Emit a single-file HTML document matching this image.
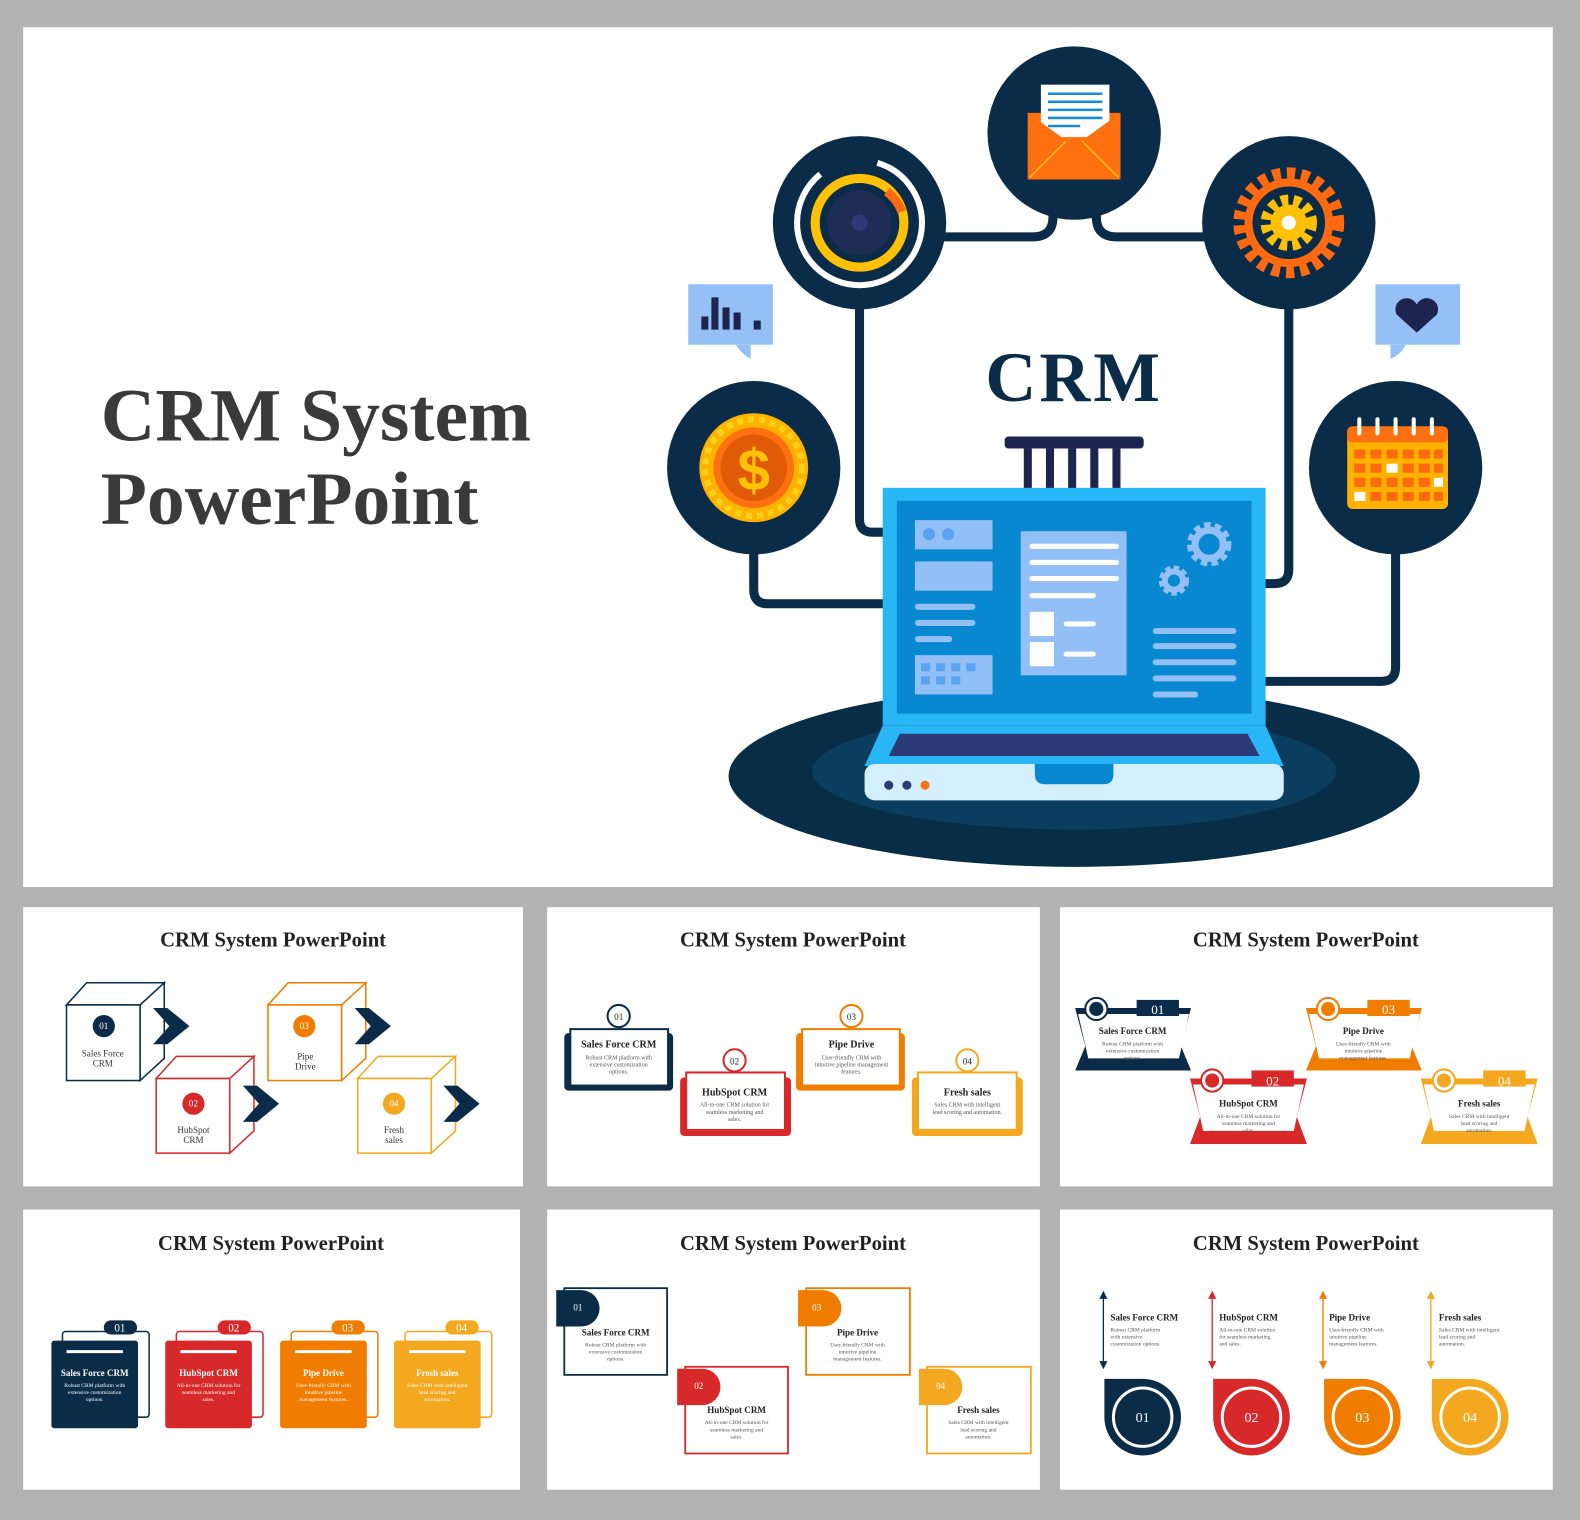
<!DOCTYPE html>
<html><head><meta charset="utf-8"><style>
html,body{margin:0;padding:0;background:#b3b3b3;}
svg{display:block;font-family:"Liberation Serif",serif;}
</style></head><body>
<svg width="1580" height="1520" viewBox="0 0 1568 1508" preserveAspectRatio="none" xmlns="http://www.w3.org/2000/svg">
<rect width="1568" height="1508" fill="#b3b3b3"/>
<rect x="23" y="27" width="1518" height="853" fill="#fff"/>
<text x="100" y="437" font-size="75" font-weight="bold" fill="#3a3a3a">CRM System</text>
<text x="100" y="520" font-size="75" font-weight="bold" fill="#3a3a3a">PowerPoint</text>

<g fill="none" stroke="#0b2c48" stroke-width="9">
<path d="M853 300 V515 q0 13 13 13 H880"/>
<path d="M748 545 V585 q0 14 14 14 H880"/>
<path d="M1045 205 v10 q0 20 -20 20 H930"/>
<path d="M1088 205 v10 q0 20 20 20 H1200"/>
<path d="M1279 300 V565 q0 14 -14 14 H1252"/>
<path d="M1385 545 V662 q0 14 -14 14 H1252"/>
</g>
<ellipse cx="1066" cy="770" rx="343" ry="90" fill="#072d47"/>
<ellipse cx="1066" cy="765" rx="260" ry="58" fill="#0b3d5e"/>
<g fill="#0b2c48">
<circle cx="1066" cy="132" r="86"/><circle cx="853" cy="221" r="86"/><circle cx="1279" cy="221" r="86"/>
<circle cx="748" cy="464" r="86"/><circle cx="1385" cy="464" r="86"/>
</g>
<rect x="1020" y="112" width="92" height="66" fill="#ff7010"/>
<rect x="1033" y="84" width="68" height="52" fill="#fff"/>
<g stroke="#1a8ad8" stroke-width="2.5"><line x1="1040" y1="93" x2="1094" y2="93"/><line x1="1040" y1="101" x2="1094" y2="101"/><line x1="1040" y1="109" x2="1094" y2="109"/><line x1="1040" y1="117" x2="1094" y2="117"/><line x1="1040" y1="125" x2="1072" y2="125"/></g>
<path d="M1020 112 L1066 145 L1112 112 V178 H1020Z" fill="#ff7010"/>
<path d="M1022 176 L1058 140 M1110 176 L1074 140" stroke="#ffc020" stroke-width="1.5"/>
<circle cx="853" cy="221" r="62" fill="none" stroke="#fff" stroke-width="6" stroke-dasharray="250 60"/>
<circle cx="853" cy="221" r="44" fill="none" stroke="#ffc107" stroke-width="9"/>
<path d="M880 190 A44 44 0 0 1 895 210" stroke="#ff6a10" stroke-width="9" fill="none"/>
<circle cx="853" cy="221" r="32" fill="#1e2d55"/>
<circle cx="853" cy="221" r="8" fill="#2c3b77"/>
<circle cx="1279" cy="221" r="48" fill="none" stroke="#ff6a10" stroke-width="14" stroke-dasharray="8 6"/>
<circle cx="1279" cy="221" r="40" fill="none" stroke="#ff6a10" stroke-width="8"/>
<circle cx="1279" cy="221" r="22" fill="none" stroke="#ffc107" stroke-width="12" stroke-dasharray="7 5"/>
<circle cx="1279" cy="221" r="18" fill="#ffc107"/>
<circle cx="1279" cy="221" r="7" fill="#fff"/>
<circle cx="748" cy="464" r="54" fill="#ffb300"/>
<circle cx="748" cy="464" r="48" fill="none" stroke="#ffd21a" stroke-width="6" stroke-dasharray="6 5"/>
<circle cx="748" cy="464" r="40" fill="#ff7010"/>
<circle cx="748" cy="464" r="33" fill="#e05a08"/>
<text x="748" y="486" font-size="58" font-weight="bold" text-anchor="middle" fill="#ffc107" font-family="Liberation Sans,sans-serif">$</text>
<rect x="1337" y="423" width="100" height="82" rx="5" fill="#ffb300"/>
<rect x="1337" y="423" width="100" height="16" rx="5" fill="#ff7010"/>
<g fill="#ff6a10">
<rect x="1344" y="446" width="11" height="9"/><rect x="1360" y="446" width="11" height="9"/><rect x="1376" y="446" width="11" height="9"/><rect x="1392" y="446" width="11" height="9"/><rect x="1408" y="446" width="11" height="9"/><rect x="1423" y="446" width="9" height="9"/>
<rect x="1344" y="460" width="11" height="9"/><rect x="1360" y="460" width="11" height="9"/><rect x="1392" y="460" width="11" height="9"/><rect x="1408" y="460" width="11" height="9"/><rect x="1423" y="460" width="9" height="9"/>
<rect x="1344" y="474" width="11" height="9"/><rect x="1360" y="474" width="11" height="9"/><rect x="1376" y="474" width="11" height="9"/><rect x="1392" y="474" width="11" height="9"/><rect x="1408" y="474" width="11" height="9"/>
<rect x="1360" y="488" width="11" height="9"/><rect x="1376" y="488" width="11" height="9"/><rect x="1392" y="488" width="11" height="9"/><rect x="1408" y="488" width="11" height="9"/><rect x="1423" y="488" width="9" height="9"/>
</g>
<g fill="#fff"><rect x="1376" y="460" width="11" height="9"/><rect x="1423" y="474" width="9" height="9"/><rect x="1344" y="488" width="11" height="9"/></g>
<g stroke="#fff" stroke-width="4" stroke-linecap="round"><line x1="1349" y1="416" x2="1349" y2="430"/><line x1="1367" y1="416" x2="1367" y2="430"/><line x1="1385" y1="416" x2="1385" y2="430"/><line x1="1403" y1="416" x2="1403" y2="430"/><line x1="1421" y1="416" x2="1421" y2="430"/></g>
<rect x="683" y="282" width="84" height="60" fill="#94c0f5"/><path d="M730 342 h15 v14 q-8 -4 -15 -14z" fill="#94c0f5"/>
<g fill="#1e2450"><rect x="696" y="314" width="7" height="13"/><rect x="706" y="295" width="7" height="32"/><rect x="717" y="305" width="7" height="22"/><rect x="728" y="310" width="7" height="17"/><rect x="748" y="318" width="7" height="9"/></g>
<rect x="1365" y="282" width="84" height="60" fill="#94c0f5"/><path d="M1380 342 h15 q-5 10 -15 14z" fill="#94c0f5"/>
<path d="M1406 330 l-20 -18 a11 11 0 0 1 20 -10 a11 11 0 0 1 20 10z" fill="#1e2450"/>
<text x="1066" y="398" font-size="70" font-weight="bold" text-anchor="middle" fill="#0b2c48" letter-spacing="3">CRM</text>
<rect x="997" y="433" width="138" height="12" rx="4" fill="#1e2450"/>
<g fill="#1e2450"><rect x="1016" y="445" width="8" height="40"/><rect x="1038" y="445" width="8" height="40"/><rect x="1060" y="445" width="8" height="40"/><rect x="1082" y="445" width="8" height="40"/><rect x="1104" y="445" width="8" height="40"/></g>
<rect x="876" y="484" width="380" height="236" fill="#29b6f6"/>
<rect x="890" y="497" width="352" height="211" fill="#0788d0"/>
<path d="M876 720 H1256 L1274 760 H858Z" fill="#29b6f6"/>
<path d="M893 728 H1238 L1250 750 H882Z" fill="#2c3b77"/>
<rect x="858" y="758" width="416" height="36" rx="10" fill="#d4efff"/>
<path d="M1027 758 h78 v10 q0 10 -10 10 h-58 q-10 0 -10 -10z" fill="#0788d0"/>
<circle cx="882" cy="779" r="4.5" fill="#2c3b77"/><circle cx="900" cy="779" r="4.5" fill="#2c3b77"/><circle cx="918" cy="779" r="4.5" fill="#ff7010"/>
<g fill="#92bff5">
<rect x="908" y="516" width="77" height="29"/><rect x="908" y="557" width="77" height="29"/>
<rect x="908" y="650" width="77" height="39"/>
<rect x="1013" y="527" width="105" height="143"/>
</g>
<circle cx="922" cy="530" r="6" fill="#5aa4ef"/><circle cx="941" cy="530" r="6" fill="#5aa4ef"/>
<g stroke="#92bff5" stroke-width="6" stroke-linecap="round"><line x1="911" y1="602" x2="965" y2="602"/><line x1="911" y1="618" x2="965" y2="618"/><line x1="911" y1="634" x2="942" y2="634"/>
<line x1="1147" y1="626" x2="1224" y2="626"/><line x1="1147" y1="641" x2="1224" y2="641"/><line x1="1147" y1="657" x2="1224" y2="657"/><line x1="1147" y1="673" x2="1224" y2="673"/><line x1="1147" y1="689" x2="1186" y2="689"/></g>
<g fill="#5aa4ef"><rect x="914" y="658" width="9" height="8"/><rect x="929" y="658" width="9" height="8"/><rect x="944" y="658" width="9" height="8"/><rect x="959" y="658" width="9" height="8"/><rect x="914" y="671" width="9" height="8"/><rect x="929" y="671" width="9" height="8"/><rect x="944" y="671" width="9" height="8"/></g>
<g stroke="#fff" stroke-width="5" stroke-linecap="round"><line x1="1024" y1="542" x2="1108" y2="542"/><line x1="1024" y1="558" x2="1108" y2="558"/><line x1="1024" y1="574" x2="1108" y2="574"/><line x1="1024" y1="591" x2="1085" y2="591"/><line x1="1058" y1="619" x2="1085" y2="619"/><line x1="1058" y1="649" x2="1085" y2="649"/></g>
<rect x="1022" y="607" width="24" height="24" fill="#fff"/><rect x="1022" y="637" width="24" height="24" fill="#fff"/>
<circle cx="1200" cy="540" r="18" fill="none" stroke="#92bff5" stroke-width="8" stroke-dasharray="6 4"/><circle cx="1200" cy="540" r="14" fill="none" stroke="#92bff5" stroke-width="7"/>
<circle cx="1165" cy="576" r="12" fill="none" stroke="#92bff5" stroke-width="6" stroke-dasharray="5 3"/><circle cx="1165" cy="576" r="9" fill="none" stroke="#92bff5" stroke-width="6"/>

<g fill="#fff">
<rect x="23" y="900" width="496" height="277"/><rect x="543" y="900" width="489" height="277"/><rect x="1052" y="900" width="489" height="277"/>
<rect x="23" y="1200" width="493" height="278"/><rect x="543" y="1200" width="489" height="278"/><rect x="1052" y="1200" width="489" height="278"/>
</g>
<g font-size="20.5" font-weight="bold" fill="#222" text-anchor="middle">
<text x="271" y="939">CRM System PowerPoint</text><text x="787" y="939">CRM System PowerPoint</text><text x="1296" y="939">CRM System PowerPoint</text>
<text x="269" y="1240">CRM System PowerPoint</text><text x="787" y="1240">CRM System PowerPoint</text><text x="1296" y="1240">CRM System PowerPoint</text>
</g>

<g fill="#fff" stroke-width="1.5">
<g stroke="#0b2c48"><path d="M66 997 L86 975 H163 L139 997Z M139 997 L163 975 V1050 L139 1072Z"/><rect x="66" y="997" width="73" height="75"/></g>
<g stroke="#d7282a"><path d="M155 1070 L175 1048 H252 L228 1070Z M228 1070 L252 1048 V1122 L228 1144Z"/><rect x="155" y="1070" width="73" height="74"/></g>
<g stroke="#f07d00"><path d="M266 997 L286 975 H363 L339 997Z M339 997 L363 975 V1050 L339 1072Z"/><rect x="266" y="997" width="73" height="75"/></g>
<g stroke="#f3a81f"><path d="M355 1070 L375 1048 H452 L428 1070Z M428 1070 L452 1048 V1122 L428 1144Z"/><rect x="355" y="1070" width="73" height="74"/></g>
</g>
<g fill="#0b2c48"><path d="M152 1000 h14 l22 18 l-22 18 h-14 l16 -18z"/><path d="M241 1077 h14 l22 18 l-22 18 h-14 l16 -18z"/><path d="M352 1000 h14 l22 18 l-22 18 h-14 l16 -18z"/><path d="M440 1077 h14 l22 18 l-22 18 h-14 l16 -18z"/></g>
<circle cx="103" cy="1018" r="11" fill="#0b2c48"/><circle cx="192" cy="1095" r="11" fill="#d7282a"/><circle cx="302" cy="1018" r="11" fill="#f07d00"/><circle cx="391" cy="1095" r="11" fill="#f3a81f"/>
<g font-size="9" fill="#fff" text-anchor="middle"><text x="103" y="1021">01</text><text x="192" y="1098">02</text><text x="302" y="1021">03</text><text x="391" y="1098">04</text></g>
<g font-size="9" fill="#333" text-anchor="middle"><text x="102" y="1048">Sales Force</text><text x="102" y="1058">CRM</text><text x="192" y="1124">HubSpot</text><text x="192" y="1134">CRM</text><text x="303" y="1051">Pipe</text><text x="303" y="1061">Drive</text><text x="391" y="1124">Fresh</text><text x="391" y="1134">sales</text></g>

<g fill="#fff" stroke-width="2">
<rect x="560" y="1025" width="108" height="57" rx="4" fill="#0b2c48"/><rect x="566" y="1021" width="97" height="56" stroke="#0b2c48"/>
<rect x="675" y="1069" width="110" height="58" rx="4" fill="#d7282a"/><rect x="681" y="1064" width="98" height="57" stroke="#d7282a"/>
<rect x="790" y="1025" width="108" height="57" rx="4" fill="#f07d00"/><rect x="796" y="1021" width="97" height="56" stroke="#f07d00"/>
<rect x="905" y="1069" width="110" height="58" rx="4" fill="#f3a81f"/><rect x="911" y="1064" width="98" height="57" stroke="#f3a81f"/>
<circle cx="614" cy="1008" r="11" stroke="#0b2c48"/><circle cx="729" cy="1052" r="11" stroke="#d7282a"/><circle cx="845" cy="1008" r="11" stroke="#f07d00"/><circle cx="960" cy="1052" r="11" stroke="#f3a81f"/>
</g>
<g font-size="9" fill="#222" text-anchor="middle"><text x="614" y="1012">01</text><text x="729" y="1056">02</text><text x="845" y="1012">03</text><text x="960" y="1056">04</text></g>
<g font-size="10" font-weight="bold" fill="#222" text-anchor="middle"><text x="614" y="1039">Sales Force CRM</text><text x="729" y="1087">HubSpot CRM</text><text x="845" y="1039">Pipe Drive</text><text x="960" y="1087">Fresh sales</text></g>
<g font-size="6" fill="#555" text-anchor="middle"><text x="614" y="1051">Robust CRM platform with</text><text x="614" y="1058">extensive customization</text><text x="614" y="1065">options.</text>
<text x="729" y="1098">All-in-one CRM solution for</text><text x="729" y="1105">seamless marketing and</text><text x="729" y="1112">sales.</text>
<text x="845" y="1051">User-friendly CRM with</text><text x="845" y="1058">intuitive pipeline management</text><text x="845" y="1065">features.</text>
<text x="960" y="1098">Sales CRM with intelligent</text><text x="960" y="1105">lead scoring and automation.</text></g>

<g>
<path d="M1067 1000 H1182 L1172 1038 L1182 1062 H1067 L1077 1038Z" fill="#0b2c48"/><path d="M1070 1006 H1180 L1170 1050 H1080Z" fill="#fff"/>
<rect x="1128" y="992" width="42" height="16" fill="#0b2c48"/><circle cx="1088" cy="1001" r="11" fill="#fff" stroke="#0b2c48" stroke-width="2"/><circle cx="1088" cy="1001" r="7" fill="#0b2c48"/>
<path d="M1181 1070 H1297 L1287 1108 L1297 1135 H1181 L1191 1108Z" fill="#d7282a"/><path d="M1184 1076 H1294 L1284 1122 H1194Z" fill="#fff"/>
<rect x="1242" y="1062" width="42" height="16" fill="#d7282a"/><circle cx="1203" cy="1072" r="11" fill="#fff" stroke="#d7282a" stroke-width="2"/><circle cx="1203" cy="1072" r="7" fill="#d7282a"/>
<path d="M1296 1000 H1411 L1401 1038 L1411 1062 H1296 L1306 1038Z" fill="#f07d00"/><path d="M1299 1006 H1409 L1399 1050 H1309Z" fill="#fff"/>
<rect x="1357" y="992" width="42" height="16" fill="#f07d00"/><circle cx="1318" cy="1001" r="11" fill="#fff" stroke="#f07d00" stroke-width="2"/><circle cx="1318" cy="1001" r="7" fill="#f07d00"/>
<path d="M1410 1070 H1526 L1516 1108 L1526 1135 H1410 L1420 1108Z" fill="#f3a81f"/><path d="M1413 1076 H1523 L1513 1122 H1423Z" fill="#fff"/>
<rect x="1472" y="1062" width="42" height="16" fill="#f3a81f"/><circle cx="1433" cy="1072" r="11" fill="#fff" stroke="#f3a81f" stroke-width="2"/><circle cx="1433" cy="1072" r="7" fill="#f3a81f"/>
</g>
<g font-size="13" fill="#fff" text-anchor="middle"><text x="1149" y="1006">01</text><text x="1263" y="1077">02</text><text x="1378" y="1006">03</text><text x="1493" y="1077">04</text></g>
<g font-size="9" font-weight="bold" fill="#222" text-anchor="middle"><text x="1124" y="1026">Sales Force CRM</text><text x="1239" y="1098">HubSpot CRM</text><text x="1353" y="1026">Pipe Drive</text><text x="1468" y="1098">Fresh sales</text></g>
<g font-size="5.5" fill="#555" text-anchor="middle"><text x="1124" y="1037">Robust CRM platform with</text><text x="1124" y="1044">extensive customization</text><text x="1124" y="1051">options.</text>
<text x="1239" y="1109">All-in-one CRM solution for</text><text x="1239" y="1116">seamless marketing and</text><text x="1239" y="1123">sales.</text>
<text x="1353" y="1037">User-friendly CRM with</text><text x="1353" y="1044">intuitive pipeline</text><text x="1353" y="1051">management features.</text>
<text x="1468" y="1109">Sales CRM with intelligent</text><text x="1468" y="1116">lead scoring and</text><text x="1468" y="1123">automation.</text></g>

<g fill="none" stroke-width="1.5">
<rect x="62" y="1321" width="86" height="85" rx="3" stroke="#0b2c48"/><rect x="175" y="1321" width="86" height="85" rx="3" stroke="#d7282a"/><rect x="289" y="1321" width="86" height="85" rx="3" stroke="#f07d00"/><rect x="402" y="1321" width="86" height="85" rx="3" stroke="#f3a81f"/>
</g>
<rect x="51" y="1330" width="86" height="87" rx="3" fill="#0b2c48"/><rect x="164" y="1330" width="86" height="87" rx="3" fill="#d7282a"/><rect x="278" y="1330" width="86" height="87" rx="3" fill="#f07d00"/><rect x="391" y="1330" width="86" height="87" rx="3" fill="#f3a81f"/>
<rect x="103" y="1310" width="33" height="14" rx="7" fill="#0b2c48"/><rect x="216" y="1310" width="33" height="14" rx="7" fill="#d7282a"/><rect x="329" y="1310" width="33" height="14" rx="7" fill="#f07d00"/><rect x="442" y="1310" width="33" height="14" rx="7" fill="#f3a81f"/>
<g stroke="#fff" stroke-width="3"><line x1="66" y1="1341" x2="122" y2="1341"/><line x1="179" y1="1341" x2="235" y2="1341"/><line x1="293" y1="1341" x2="349" y2="1341"/><line x1="406" y1="1341" x2="462" y2="1341"/></g>
<g fill="#fff" text-anchor="middle">
<g font-size="11"><text x="119" y="1321">01</text><text x="232" y="1321">02</text><text x="345" y="1321">03</text><text x="458" y="1321">04</text></g>
<g font-size="9" font-weight="bold"><text x="94" y="1365">Sales Force CRM</text><text x="207" y="1365">HubSpot CRM</text><text x="321" y="1365">Pipe Drive</text><text x="434" y="1365">Fresh sales</text></g>
<g font-size="5.5"><text x="94" y="1376">Robust CRM platform with</text><text x="94" y="1383">extensive customization</text><text x="94" y="1390">options.</text>
<text x="207" y="1376">All-in-one CRM solution for</text><text x="207" y="1383">seamless marketing and</text><text x="207" y="1390">sales.</text>
<text x="321" y="1376">User-friendly CRM with</text><text x="321" y="1383">intuitive pipeline</text><text x="321" y="1390">management features.</text>
<text x="434" y="1376">Sales CRM with intelligent</text><text x="434" y="1383">lead scoring and</text><text x="434" y="1390">automation.</text></g>
</g>

<g fill="#fff" stroke-width="1.8">
<rect x="560" y="1278" width="102" height="86" stroke="#0b2c48"/><rect x="680" y="1356" width="102" height="86" stroke="#d7282a"/>
<rect x="800" y="1278" width="103" height="86" stroke="#f07d00"/><rect x="920" y="1356" width="103" height="86" stroke="#f3a81f"/>
</g>
<path d="M552 1280 H577 a18 18 0 0 1 0 36 H552Z" fill="#0b2c48"/><path d="M672 1358 H697 a18 18 0 0 1 0 36 H672Z" fill="#d7282a"/>
<path d="M792 1280 H817 a18 18 0 0 1 0 36 H792Z" fill="#f07d00"/><path d="M912 1358 H937 a18 18 0 0 1 0 36 H912Z" fill="#f3a81f"/>
<g font-size="9" fill="#fff"><text x="569" y="1300">01</text><text x="689" y="1378">02</text><text x="806" y="1300">03</text><text x="929" y="1378">04</text></g>
<g font-size="9" font-weight="bold" fill="#222" text-anchor="middle"><text x="611" y="1325">Sales Force CRM</text><text x="731" y="1402">HubSpot CRM</text><text x="851" y="1325">Pipe Drive</text><text x="971" y="1402">Fresh sales</text></g>
<g font-size="5.5" fill="#555" text-anchor="middle"><text x="611" y="1336">Robust CRM platform with</text><text x="611" y="1343">extensive customization</text><text x="611" y="1350">options.</text>
<text x="731" y="1413">All-in-one CRM solution for</text><text x="731" y="1420">seamless marketing and</text><text x="731" y="1427">sales.</text>
<text x="851" y="1336">User-friendly CRM with</text><text x="851" y="1343">intuitive pipeline</text><text x="851" y="1350">management features.</text>
<text x="971" y="1413">Sales CRM with intelligent</text><text x="971" y="1420">lead scoring and</text><text x="971" y="1427">automation.</text></g>

<g stroke-width="1.3">
<g stroke="#0b2c48" fill="#0b2c48"><line x1="1095" y1="1285" x2="1095" y2="1354"/><path d="M1092 1288 l3 -6 l3 6z M1092 1351 l3 6 l3 -6z"/></g>
<g stroke="#d7282a" fill="#d7282a"><line x1="1203" y1="1285" x2="1203" y2="1354"/><path d="M1200 1288 l3 -6 l3 6z M1200 1351 l3 6 l3 -6z"/></g>
<g stroke="#f07d00" fill="#f07d00"><line x1="1313" y1="1285" x2="1313" y2="1354"/><path d="M1310 1288 l3 -6 l3 6z M1310 1351 l3 6 l3 -6z"/></g>
<g stroke="#f3a81f" fill="#f3a81f"><line x1="1420" y1="1285" x2="1420" y2="1354"/><path d="M1417 1288 l3 -6 l3 6z M1417 1351 l3 6 l3 -6z"/></g>
</g>
<g font-size="9" font-weight="bold" fill="#222"><text x="1102" y="1310">Sales Force CRM</text><text x="1210" y="1310">HubSpot CRM</text><text x="1319" y="1310">Pipe Drive</text><text x="1428" y="1310">Fresh sales</text></g>
<g font-size="5.5" fill="#555"><text x="1102" y="1321">Robust CRM platform</text><text x="1102" y="1328">with extensive</text><text x="1102" y="1335">customization options.</text>
<text x="1210" y="1321">All-in-one CRM solution</text><text x="1210" y="1328">for seamless marketing</text><text x="1210" y="1335">and sales.</text>
<text x="1319" y="1321">User-friendly CRM with</text><text x="1319" y="1328">intuitive pipeline</text><text x="1319" y="1335">management features.</text>
<text x="1428" y="1321">Sales CRM with intelligent</text><text x="1428" y="1328">lead scoring and</text><text x="1428" y="1335">automation.</text></g>
<g>
<path d="M1096 1406 V1368 H1134 a38 38 0 1 1 -38 38z" fill="#0b2c48"/><circle cx="1134" cy="1406" r="29" fill="none" stroke="#fff" stroke-width="3"/>
<path d="M1204 1406 V1368 H1242 a38 38 0 1 1 -38 38z" fill="#d7282a"/><circle cx="1242" cy="1406" r="29" fill="none" stroke="#fff" stroke-width="3"/>
<path d="M1314 1406 V1368 H1352 a38 38 0 1 1 -38 38z" fill="#f07d00"/><circle cx="1352" cy="1406" r="29" fill="none" stroke="#fff" stroke-width="3"/>
<path d="M1421 1406 V1368 H1459 a38 38 0 1 1 -38 38z" fill="#f3a81f"/><circle cx="1459" cy="1406" r="29" fill="none" stroke="#fff" stroke-width="3"/>
</g>
<g font-size="14" fill="#fff" text-anchor="middle"><text x="1134" y="1411">01</text><text x="1242" y="1411">02</text><text x="1352" y="1411">03</text><text x="1459" y="1411">04</text></g>
</svg>
</body></html>
